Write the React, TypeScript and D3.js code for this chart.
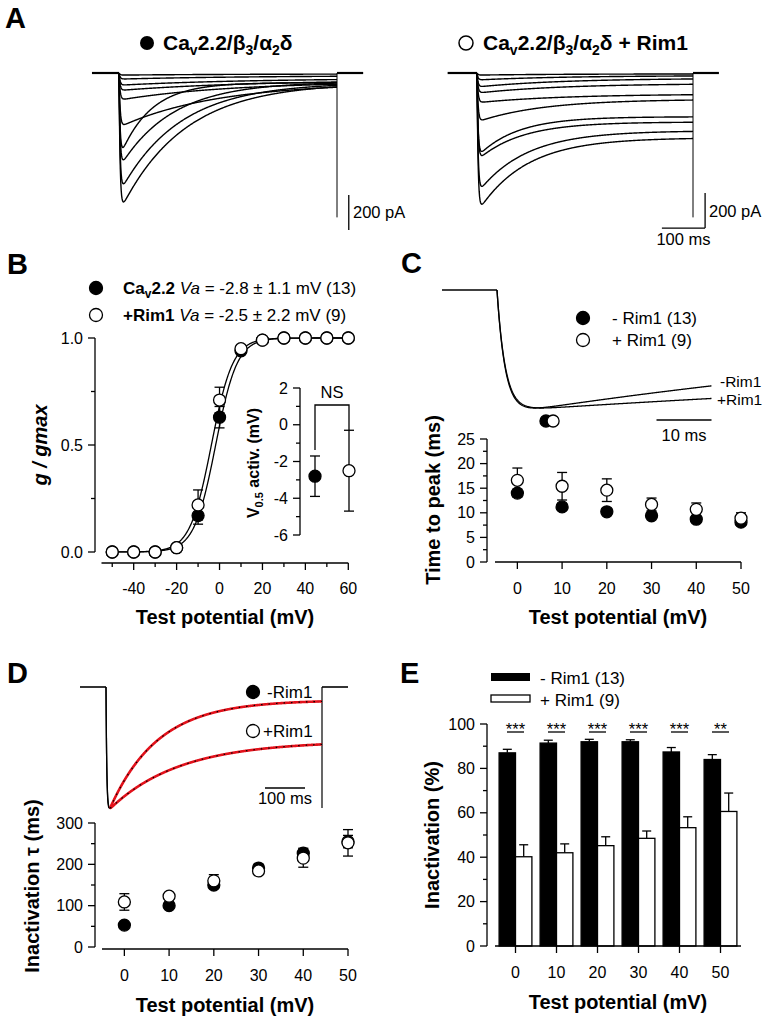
import React from 'react';
import * as d3 from 'd3';

const FONT = '"Liberation Sans", Arial, Helvetica, sans-serif';
const SW = 1.3;

// ---------------- Panel A : current families (500 ms step) ----------------
const stepMs = 500;
const actTauMs = 2.5;
const ctrlPeakPA = [800, 690, 545, 490, 310, 155, 100, 70, 35, 12];
const ctrlTauMs = [145, 135, 120, 70, 220, 250, 300, 300, 300, 300];
const ctrlResidPA = [55, 55, 50, 55, 55, 50, 40, 30, 15, 5];
const rimPeakPA = [800, 690, 500, 480, 280, 170, 115, 80, 40, 12];
const rimTauMs = [110, 110, 100, 90, 150, 200, 200, 200, 200, 200];
const rimResidPA = [370, 330, 280, 250, 150, 120, 60, 30, 15, 5];
const tailPA = 825;

// ---------------- Panel B : activation ----------------
const actV = [-50, -40, -30, -20, -10, 0, 10, 20, 30, 40, 50, 60];
const actCtrl = [0, 0, 0, 0.02, 0.17, 0.63, 0.94, 0.99, 1, 1, 1, 1];
const actCtrlErr = [0, 0, 0, 0.005, 0.04, 0.05, 0.01, 0.003, 0, 0, 0, 0];
const actRim = [0, 0, 0, 0.02, 0.22, 0.71, 0.95, 0.99, 1, 1, 1, 1];
const actRimErr = [0, 0, 0, 0.005, 0.07, 0.06, 0.01, 0.003, 0, 0, 0, 0];
const fitVhalf = [-3.8, -1.8];
const fitSlope = 5;
const vHalfMean = [-2.8, -2.5];
const vHalfSem = [1.1, 2.2];

// ---------------- Panel C : time to peak ----------------
const testV = [0, 10, 20, 30, 40, 50];
const tpCtrl = [14.0, 11.2, 10.2, 9.4, 8.7, 8.1];
const tpCtrlErr = [0.8, 0.7, 0.6, 0.5, 0.5, 0.4];
const tpRim = [16.6, 15.4, 14.6, 11.7, 10.7, 8.9];
const tpRimErr = [2.5, 2.8, 2.3, 1.3, 1.3, 1.1];
const cActTauMs = 1.5;
const cInactTauMs = [130, 180];
const cResidFrac = [0.1, 0.45];
const cPeakTimeMs = [8.9, 10.2];
const cTraceEndMs = 39;

// ---------------- Panel D : inactivation tau ----------------
const tauCtrl = [53, 100, 150, 191, 227, 255];
const tauCtrlErr = [5, 6, 8, 9, 12, 15];
const tauRim = [109, 123, 160, 184, 215, 252];
const tauRimErr = [20, 6, 15, 8, 22, 32];
const dActTauMs = 2;
const dInactTauMs = [120, 175];
const dResidFrac = [0.1, 0.43];
const dStepMs = 540;

// ---------------- Panel E : % inactivation ----------------
const inactCtrl = [87, 91.4, 92, 92, 87.4, 84];
const inactCtrlErr = [1.6, 1.3, 1.1, 0.9, 2.0, 2.2];
const inactRim = [40.2, 42, 45.2, 48.5, 53.3, 60.6];
const inactRimErr = [5.4, 4, 4, 3.3, 4.9, 8.3];
const sigLabels = ['***', '***', '***', '***', '***', '**'];

function seq(a: number, b: number, s: number) {
  const r: number[] = [];
  for (let v = a; v <= b + 1e-9; v += s) r.push(+v.toFixed(6));
  return r;
}

function model(t: number, ta: number, tau: number, r: number) {
  return (1 - Math.exp(-t / ta)) * (r + (1 - r) * Math.exp(-t / tau));
}

const line = d3.line<[number, number]>();

function YAxis({ scale, x, major, minor = [], fmt = (v: number) => String(v), fs = 16 }: any) {
  const r = scale.range();
  return (
    <g stroke="#000" strokeWidth={SW}>
      <line x1={x} x2={x} y1={Math.min(...r)} y2={Math.max(...r)} />
      {major.map((v: number) => (
        <g key={'M' + v}>
          <line x1={x - 7} x2={x} y1={scale(v)} y2={scale(v)} />
          <text x={x - 12} y={scale(v)} dy="0.35em" textAnchor="end" fontSize={fs} stroke="none" fill="#000">{fmt(v)}</text>
        </g>
      ))}
      {minor.map((v: number) => (
        <line key={'m' + v} x1={x - 4} x2={x} y1={scale(v)} y2={scale(v)} />
      ))}
    </g>
  );
}

function XAxis({ scale, y, major, minor = [], labelY, fs = 16 }: any) {
  const r = scale.range();
  return (
    <g stroke="#000" strokeWidth={SW}>
      <line x1={r[0]} x2={r[1]} y1={y} y2={y} />
      {major.map((v: number) => (
        <g key={'M' + v}>
          <line x1={scale(v)} x2={scale(v)} y1={y} y2={y + 7} />
          <text x={scale(v)} y={labelY} textAnchor="middle" fontSize={fs} stroke="none" fill="#000">{String(v)}</text>
        </g>
      ))}
      {minor.map((v: number) => (
        <line key={'m' + v} x1={scale(v)} x2={scale(v)} y1={y} y2={y + 4} />
      ))}
    </g>
  );
}

function ErrBar({ x, y0, y1, cap = 5 }: any) {
  return (
    <g stroke="#000" strokeWidth={SW}>
      <line x1={x} x2={x} y1={y0} y2={y1} />
      <line x1={x - cap} x2={x + cap} y1={y0} y2={y0} />
      <line x1={x - cap} x2={x + cap} y1={y1} y2={y1} />
    </g>
  );
}

function Dot({ x, y, filled, r = 6 }: any) {
  return <circle cx={x} cy={y} r={r} fill={filled ? '#000' : '#fff'} stroke="#000" strokeWidth={SW} />;
}

function YTitle({ x, y, children, fs = 20, italic = false }: any) {
  return (
    <text transform={`translate(${x},${y}) rotate(-90)`} textAnchor="middle" dy="0.35em" fontSize={fs}
      fontWeight="bold" fontStyle={italic ? 'italic' : 'normal'}>{children}</text>
  );
}

function CaTitle({ x, y, suffix = '' }: any) {
  return (
    <text x={x} y={y} fontSize={21} fontWeight="bold">
      <tspan>Ca</tspan>
      <tspan fontSize={14} dy={5}>v</tspan>
      <tspan dy={-5}>2.2/β</tspan>
      <tspan fontSize={14} dy={5}>3</tspan>
      <tspan dy={-5}>/α</tspan>
      <tspan fontSize={14} dy={5}>2</tspan>
      <tspan dy={-5}>{'δ' + suffix}</tspan>
    </text>
  );
}

export default function App() {
  // ---------- Panel A ----------
  const xAL = d3.scaleLinear().domain([0, stepMs]).range([119, 337]);
  const xAR = d3.scaleLinear().domain([0, stepMs]).range([477, 693]);
  const yAL = d3.scaleLinear().domain([0, -800]).range([73, 213]);
  const yAR = d3.scaleLinear().domain([0, -800]).range([73, 213]);
  const tGrid = seq(0, stepMs, 1);
  const famPath = (xs: any, ys: any, peak: number, tau: number, resid: number) =>
    line(tGrid.map((t) => [xs(t), ys(-peak * model(t, actTauMs, tau, resid / peak))]));

  // ---------- Panel B ----------
  const xB = d3.scaleLinear().domain([-55, 60]).range([101.5, 348.3]);
  const yB = d3.scaleLinear().domain([0, 1]).range([552, 338]);
  const vGrid = seq(-50, 60, 0.25);
  const boltz = (v: number, vh: number) => 1 / (1 + Math.exp((vh - v) / fitSlope));
  const yIn = d3.scaleLinear().domain([-6, 2]).range([535, 388]);
  const xIn = d3.scalePoint().domain(['ctrl', 'rim']).range([315, 349]);
  const inKeys = ['ctrl', 'rim'];

  // ---------- Panel C ----------
  const xC = d3.scaleLinear().domain([-5, 50]).range([495, 741]);
  const yC = d3.scaleLinear().domain([0, 25]).range([562, 439]);
  const xCt = d3.scaleLinear().domain([0, 10]).range([497, 552]);
  const yCt = d3.scaleLinear().domain([0, -1]).range([290, 408]);
  const cGrid = seq(0, cTraceEndMs, 0.1);
  const cPaths = [0, 1].map((i) => {
    const vals = cGrid.map((t) => model(t, cActTauMs, cInactTauMs[i], cResidFrac[i]));
    const mx = d3.max(vals) as number;
    return line(cGrid.map((t, k) => [xCt(t), yCt(-vals[k] / mx)]));
  });

  // ---------- Panel D ----------
  const xD = d3.scaleLinear().domain([-5, 50]).range([102, 348]);
  const yD = d3.scaleLinear().domain([0, 300]).range([947, 823]);
  const xDt = d3.scaleLinear().domain([0, 100]).range([106, 146]);
  const yDt = d3.scaleLinear().domain([0, -1]).range([687, 808]);
  const dGrid = seq(0, dStepMs, 0.5);
  const dCurves = [0, 1].map((i) => {
    const vals = dGrid.map((t) => model(t, dActTauMs, dInactTauMs[i], dResidFrac[i]));
    const mx = d3.max(vals) as number;
    const ipk = vals.indexOf(mx);
    const all = dGrid.map((t, k) => [xDt(t), yDt(-vals[k] / mx)] as [number, number]);
    return { all: line(all), fit: line(all.slice(ipk)) };
  });

  // ---------- Panel E ----------
  const xE = d3.scaleLinear().domain([-5, 55]).range([495, 741]);
  const yE = d3.scaleLinear().domain([0, 100]).range([946, 724]);
  const bw = xE(4) - xE(0);

  return (
    <svg width={769} height={1020} style={{ position: 'absolute', left: 0, top: 0, background: '#fff' }}
      fontFamily={FONT} fill="#000">
      <rect x={0} y={0} width={769} height={1020} fill="#fff" />

      {/* ================= Panel A ================= */}
      <text x={5} y={28} fontSize={29} fontWeight="bold">A</text>
      <circle cx={147} cy={43} r={7} fill="#000" />
      <CaTitle x={163} y={50} />
      <circle cx={466} cy={43} r={7} fill="#fff" stroke="#000" strokeWidth={1.5} />
      <CaTitle x={483} y={50} suffix=" + Rim1" />

      <g fill="none" stroke="#000">
        {/* left family */}
        <line x1={xAL(-62)} x2={xAL(0)} y1={yAL(0)} y2={yAL(0)} strokeWidth={2.2} />
        <line x1={xAL(stepMs)} x2={xAL(560)} y1={yAL(0)} y2={yAL(0)} strokeWidth={2.2} />
        <line x1={xAL(stepMs)} x2={xAL(stepMs)} y1={yAL(0)} y2={yAL(-tailPA)} strokeWidth={1} />
        {ctrlPeakPA.map((p, i) => (
          <path key={'l' + i} d={famPath(xAL, yAL, p, ctrlTauMs[i], ctrlResidPA[i]) as string} strokeWidth={1.4} />
        ))}
        {/* right family */}
        <line x1={xAR(-68)} x2={xAR(0)} y1={yAR(0)} y2={yAR(0)} strokeWidth={2.2} />
        <line x1={xAR(stepMs)} x2={xAR(560)} y1={yAR(0)} y2={yAR(0)} strokeWidth={2.2} />
        <line x1={xAR(stepMs)} x2={xAR(stepMs)} y1={yAR(0)} y2={yAR(-tailPA)} strokeWidth={1} />
        {rimPeakPA.map((p, i) => (
          <path key={'r' + i} d={famPath(xAR, yAR, p, rimTauMs[i], rimResidPA[i]) as string} strokeWidth={1.4} />
        ))}
        {/* scale bars */}
        <line x1={xAL(527)} x2={xAL(527)} y1={yAL(-697)} y2={yAL(-897)} strokeWidth={SW} />
        <line x1={xAR(528)} x2={xAR(528)} y1={yAR(-686)} y2={yAR(-886)} strokeWidth={SW} />
        <line x1={xAR(428)} x2={xAR(528)} y1={yAR(-886)} y2={yAR(-886)} strokeWidth={SW} />
      </g>
      <text x={353} y={218} fontSize={16.5}>200 pA</text>
      <text x={709} y={217} fontSize={16.5}>200 pA</text>
      <text x={(xAR(428) + xAR(528)) / 2} y={245} fontSize={16.5} textAnchor="middle">100 ms</text>

      {/* ================= Panel B ================= */}
      <text x={7} y={274} fontSize={29} fontWeight="bold">B</text>
      <Dot x={96} y={288} filled r={6.5} />
      <text x={123} y={294} fontSize={17}>
        <tspan fontWeight="bold">Ca</tspan>
        <tspan fontWeight="bold" fontSize={12} dy={4}>v</tspan>
        <tspan fontWeight="bold" dy={-4}>2.2 </tspan>
        <tspan fontStyle="italic">Va</tspan>
        <tspan> = -2.8 ± 1.1 mV (13)</tspan>
      </text>
      <Dot x={96} y={315} r={6.5} />
      <text x={123} y={321} fontSize={17}>
        <tspan fontWeight="bold">+Rim1 </tspan>
        <tspan fontStyle="italic">Va</tspan>
        <tspan> = -2.5 ± 2.2 mV (9)</tspan>
      </text>

      <YAxis scale={yB} x={95} major={[0, 0.5, 1]} minor={[0.25, 0.75]} fmt={d3.format('.1f')} />
      <XAxis scale={xB} y={563} major={[-40, -20, 0, 20, 40, 60]} minor={[-50, -30, -10, 10, 30, 50]} labelY={594} />
      <text x={225} y={624} fontSize={20} fontWeight="bold" textAnchor="middle">Test potential (mV)</text>
      <YTitle x={40} y={445} italic>g / gmax</YTitle>

      {fitVhalf.map((vh, i) => (
        <path key={'fit' + i} d={line(vGrid.map((v) => [xB(v), yB(boltz(v, vh))])) as string}
          fill="none" stroke="#000" strokeWidth={SW} />
      ))}
      {actV.map((v, i) => actRimErr[i] > 0.01 ? (
        <ErrBar key={'be2' + i} x={xB(v)} y0={yB(actRim[i] + actRimErr[i])} y1={yB(actRim[i] - actRimErr[i])} />
      ) : null)}
      {actV.map((v, i) => actCtrlErr[i] > 0.01 ? (
        <ErrBar key={'be1' + i} x={xB(v)} y0={yB(actCtrl[i] + actCtrlErr[i])} y1={yB(actCtrl[i] - actCtrlErr[i])} />
      ) : null)}
      {actV.map((v, i) => <Dot key={'bc' + i} x={xB(v)} y={yB(actCtrl[i])} filled />)}
      {actV.map((v, i) => <Dot key={'br' + i} x={xB(v)} y={yB(actRim[i])} />)}

      {/* inset */}
      <YAxis scale={yIn} x={300} major={[-6, -4, -2, 0, 2]} minor={[-5, -3, -1, 1]} />
      <text transform="translate(253,463) rotate(-90)" textAnchor="middle" dy="0.35em" fontSize={16} fontWeight="bold">
        <tspan>V</tspan>
        <tspan fontSize={11} dy={4}>0.5</tspan>
        <tspan dy={-4}> activ. (mV)</tspan>
      </text>
      {inKeys.map((k, i) => (
        <ErrBar key={'ie' + i} x={xIn(k)} y0={yIn(vHalfMean[i] + vHalfSem[i])} y1={yIn(vHalfMean[i] - vHalfSem[i])} />
      ))}
      {inKeys.map((k, i) => <Dot key={'id' + i} x={xIn(k)} y={yIn(vHalfMean[i])} filled={i === 0} />)}
      <path d={`M${xIn('ctrl')},${yIn(vHalfMean[0] + vHalfSem[0]) - 6}V${yIn(2) + 17}H${xIn('rim')}V${yIn(vHalfMean[1] + vHalfSem[1])}`}
        fill="none" stroke="#000" strokeWidth={SW} />
      <text x={332} y={398} fontSize={16.5} textAnchor="middle">NS</text>

      {/* ================= Panel C ================= */}
      <text x={401} y={273} fontSize={29} fontWeight="bold">C</text>
      <g fill="none" stroke="#000" strokeWidth={1.3}>
        <line x1={xCt(-10)} x2={xCt(0)} y1={yCt(0)} y2={yCt(0)} strokeWidth={1.6} />
        {cPaths.map((p, i) => <path key={'cp' + i} d={p as string} />)}
        <line x1={xCt(29)} x2={xCt(39)} y1={420} y2={420} />
      </g>
      <text x={xCt(34)} y={441} fontSize={16.5} textAnchor="middle">10 ms</text>
      <text x={720} y={387} fontSize={15.5}>-Rim1</text>
      <text x={717} y={405} fontSize={15.5}>+Rim1</text>
      <Dot x={xCt(cPeakTimeMs[0])} y={yCt(-1.11)} filled />
      <Dot x={xCt(cPeakTimeMs[1])} y={yCt(-1.11)} />
      <Dot x={583} y={318} filled r={6.5} />
      <text x={612} y={324} fontSize={17}>- Rim1 (13)</text>
      <Dot x={583} y={340} r={6.5} />
      <text x={612} y={346} fontSize={17}>+ Rim1 (9)</text>

      <YAxis scale={yC} x={487} major={[0, 5, 10, 15, 20, 25]} minor={[2.5, 7.5, 12.5, 17.5, 22.5]} />
      <XAxis scale={xC} y={562} major={testV} labelY={594} />
      <text x={618} y={624} fontSize={20} fontWeight="bold" textAnchor="middle">Test potential (mV)</text>
      <YTitle x={433} y={500}>Time to peak (ms)</YTitle>
      {testV.map((v, i) => (
        <ErrBar key={'ce1' + i} x={xC(v)} y0={yC(tpCtrl[i] + tpCtrlErr[i])} y1={yC(tpCtrl[i] - tpCtrlErr[i])} />
      ))}
      {testV.map((v, i) => (
        <ErrBar key={'ce2' + i} x={xC(v)} y0={yC(tpRim[i] + tpRimErr[i])} y1={yC(tpRim[i] - tpRimErr[i])} />
      ))}
      {testV.map((v, i) => <Dot key={'cc' + i} x={xC(v)} y={yC(tpCtrl[i])} filled />)}
      {testV.map((v, i) => <Dot key={'cr' + i} x={xC(v)} y={yC(tpRim[i])} />)}

      {/* ================= Panel D ================= */}
      <text x={7} y={683} fontSize={29} fontWeight="bold">D</text>
      <g fill="none" stroke="#000">
        <line x1={xDt(-65)} x2={xDt(0)} y1={yDt(0)} y2={yDt(0)} strokeWidth={1.6} />
        <line x1={xDt(dStepMs)} x2={xDt(605)} y1={yDt(0)} y2={yDt(0)} strokeWidth={1.6} />
        <line x1={xDt(dStepMs)} x2={xDt(dStepMs)} y1={yDt(0)} y2={yDt(-1)} strokeWidth={1.2} />
        {dCurves.map((c, i) => <path key={'da' + i} d={c.all as string} strokeWidth={1.3} />)}
        {dCurves.map((c, i) => <path key={'df' + i} d={c.fit as string} stroke="#e3111b" strokeWidth={2.6} />)}
        {dCurves.map((c, i) => <path key={'dn' + i} d={c.fit as string} strokeWidth={1.2} strokeDasharray="1.5 6" />)}
        <line x1={xDt(397.5)} x2={xDt(497.5)} y1={788} y2={788} strokeWidth={SW} />
      </g>
      <text x={xDt(447.5)} y={804} fontSize={16.5} textAnchor="middle">100 ms</text>
      <Dot x={253} y={692} filled r={6.5} />
      <text x={267} y={698} fontSize={17}>-Rim1</text>
      <Dot x={253} y={731} r={6.5} />
      <text x={263} y={737} fontSize={17}>+Rim1</text>

      <YAxis scale={yD} x={95} major={[0, 100, 200, 300]} minor={[50, 150, 250]} />
      <XAxis scale={xD} y={949} major={testV} labelY={981} />
      <text x={225} y={1012} fontSize={20} fontWeight="bold" textAnchor="middle">Test potential (mV)</text>
      <YTitle x={32} y={886}>Inactivation τ (ms)</YTitle>
      {testV.map((v, i) => (
        <ErrBar key={'de1' + i} x={xD(v)} y0={yD(tauCtrl[i] + tauCtrlErr[i])} y1={yD(tauCtrl[i] - tauCtrlErr[i])} />
      ))}
      {testV.map((v, i) => (
        <ErrBar key={'de2' + i} x={xD(v)} y0={yD(tauRim[i] + tauRimErr[i])} y1={yD(tauRim[i] - tauRimErr[i])} />
      ))}
      {testV.map((v, i) => <Dot key={'dc' + i} x={xD(v)} y={yD(tauCtrl[i])} filled />)}
      {testV.map((v, i) => <Dot key={'dr' + i} x={xD(v)} y={yD(tauRim[i])} />)}

      {/* ================= Panel E ================= */}
      <text x={400} y={683} fontSize={29} fontWeight="bold">E</text>
      <rect x={491} y={673} width={39} height={8} fill="#000" />
      <text x={540} y={684} fontSize={17}>- Rim1 (13)</text>
      <rect x={491} y={695} width={39} height={7} fill="#fff" stroke="#000" strokeWidth={SW} />
      <text x={540} y={706} fontSize={17}>+ Rim1 (9)</text>

      {testV.map((v, i) => (
        <g key={'eb' + i} stroke="#000" strokeWidth={SW}>
          <line x1={xE(v) - bw / 2} x2={xE(v) - bw / 2} y1={yE(inactCtrl[i])} y2={yE(inactCtrl[i] + inactCtrlErr[i])} />
          <line x1={xE(v) - bw / 2 - 4.5} x2={xE(v) - bw / 2 + 4.5} y1={yE(inactCtrl[i] + inactCtrlErr[i])} y2={yE(inactCtrl[i] + inactCtrlErr[i])} />
          <line x1={xE(v) + bw / 2} x2={xE(v) + bw / 2} y1={yE(inactRim[i])} y2={yE(inactRim[i] + inactRimErr[i])} />
          <line x1={xE(v) + bw / 2 - 4.5} x2={xE(v) + bw / 2 + 4.5} y1={yE(inactRim[i] + inactRimErr[i])} y2={yE(inactRim[i] + inactRimErr[i])} />
          <rect x={xE(v) - bw} y={yE(inactCtrl[i])} width={bw} height={yE(0) - yE(inactCtrl[i])} fill="#000" />
          <rect x={xE(v)} y={yE(inactRim[i])} width={bw} height={yE(0) - yE(inactRim[i])} fill="#fff" />
          <line x1={xE(v) - 8.5} x2={xE(v) + 8.5} y1={732} y2={732} />
          <text x={xE(v)} y={735} fontSize={16.5} textAnchor="middle" stroke="none" fill="#000">{sigLabels[i]}</text>
        </g>
      ))}
      <YAxis scale={yE} x={487} major={[0, 20, 40, 60, 80, 100]} minor={[10, 30, 50, 70, 90]} />
      <XAxis scale={xE} y={946} major={testV} labelY={978} />
      <text x={618} y={1009} fontSize={20} fontWeight="bold" textAnchor="middle">Test potential (mV)</text>
      <YTitle x={432} y={835}>Inactivation (%)</YTitle>
    </svg>
  );
}
